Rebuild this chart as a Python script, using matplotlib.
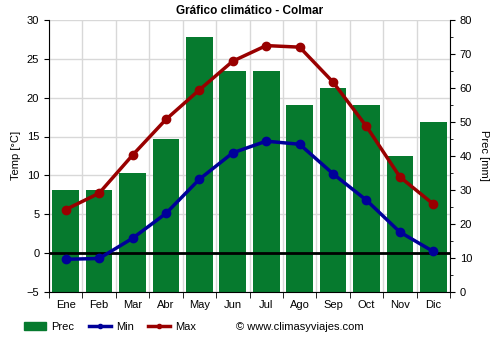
import numpy as np
import matplotlib.pyplot as plt
from matplotlib.patches import Patch
from matplotlib.lines import Line2D

meses = ['Ene', 'Feb', 'Mar', 'Abr', 'May', 'Jun', 'Jul', 'Ago', 'Sep', 'Oct', 'Nov', 'Dic']
prec = [30, 30, 35, 45, 75, 65, 65, 55, 60, 55, 40, 50]
t_min = [-0.8, -0.7, 1.9, 5.1, 9.5, 12.9, 14.4, 14.0, 10.2, 6.8, 2.7, 0.2]
t_max = [5.6, 7.7, 12.6, 17.2, 21.0, 24.7, 26.7, 26.5, 22.0, 16.3, 9.8, 6.3]

verde = '#067a2e'
azul = '#000099'
rojo = '#990000'

plt.rcParams['font.family'] = ['Liberation Sans', 'DejaVu Sans']

fig = plt.figure(figsize=(5, 3.5), dpi=100)
ax = fig.add_axes([0.098, 0.166, 0.802, 0.777])
ax2 = ax.twinx()

x = np.arange(len(meses))

# barras de precipitacion en el eje derecho, detras de las temperaturas
ax2.bar(x, prec, width=0.8, color=verde, zorder=2)
ax2.set_ylim(0, 80)
ax2.set_yticks(np.arange(0, 81, 10))
ax2.set_yticks(np.arange(5, 80, 10), minor=True)
ax2.set_ylabel('Prec [mm]', fontsize=8, rotation=270, labelpad=12)

ax.set_zorder(ax2.get_zorder() + 1)
ax.patch.set_visible(False)

ax.set_xlim(-0.5, 11.5)
ax.set_ylim(-5, 30)
ax.set_yticks(np.arange(-5, 31, 5))
ax.set_xticks(x)
ax.set_xticklabels(meses)
ax.set_xticks(np.arange(-0.5, 12, 1), minor=True)
ax.tick_params(axis='x', which='major', length=0, pad=6)
ax.tick_params(axis='x', which='minor', length=4)
ax.set_ylabel('Temp [°C]', fontsize=8)

# rejilla gris clara dibujada en el eje de atras
for v in np.arange(-0.5, 12, 1):
    ax2.axvline(v, color='#d8d8d8', lw=1, zorder=0)
for t in np.arange(-5, 31, 5):
    ax2.axhline((t + 5) * 80 / 35, color='#d8d8d8', lw=1, zorder=0)

ax.axhline(0, color='black', lw=2, zorder=3)
ax.plot(x, t_min, color=azul, lw=2.5, marker='o', ms=6, zorder=4)
ax.plot(x, t_max, color=rojo, lw=2.5, marker='o', ms=6, zorder=4)

for a in (ax, ax2):
    a.tick_params(labelsize=8)
    for s in a.spines.values():
        s.set_visible(False)
ax.spines['left'].set_visible(True)
ax.spines['bottom'].set_visible(True)
ax2.spines['right'].set_visible(True)

ax.set_title('Gráfico climático - Colmar', fontsize=8.5, fontweight='bold', pad=4)

handles = [
    Patch(color=verde, label='Prec'),
    Line2D([], [], color=azul, lw=2.5, marker='o', ms=3, label='Min'),
    Line2D([], [], color=rojo, lw=2.5, marker='o', ms=3, label='Max'),
]
fig.legend(handles=handles, loc='center left', bbox_to_anchor=(0.048, 0.067), ncol=3,
           frameon=False, fontsize=8, handlelength=2.0, columnspacing=1.3,
           handletextpad=0.45, borderpad=0, borderaxespad=0)
fig.text(0.472, 0.067, '© www.climasyviajes.com', fontsize=8, va='center')

fig.savefig('out.png', dpi=100)
